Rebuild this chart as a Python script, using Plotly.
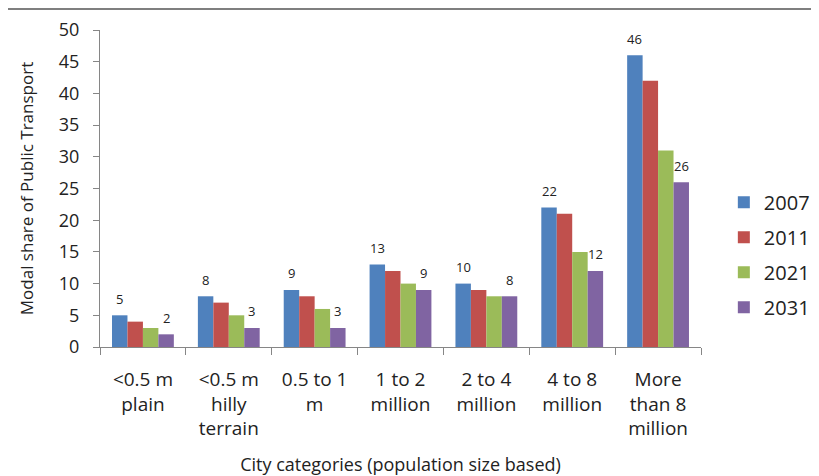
import plotly.graph_objects as go

categories = ["<0.5 m<br>plain", "<0.5 m<br>hilly<br>terrain", "0.5 to 1<br>m",
              "1 to 2<br>million", "2 to 4<br>million", "4 to 8<br>million",
              "More<br>than 8<br>million"]
years = ["2007", "2011", "2021", "2031"]
v2007 = [5, 8, 9, 13, 10, 22, 46]
v2011 = [4, 7, 8, 12, 9, 21, 42]
v2021 = [3, 5, 6, 10, 8, 15, 31]
v2031 = [2, 3, 3, 9, 8, 12, 26]
series = [v2007, v2011, v2021, v2031]
colors = ["#4F81BD", "#C0504D", "#9BBB59", "#8064A2"]
labelled = [True, False, False, True]

FONT = "Open Sans, Lato, sans-serif"
# page has an 8px body margin; figure is sized to fit inside the window
W, H = 811, 468
L, R, T, B = 92, 118, 22, 129
BARGAP = 0.28

fig = go.Figure()
for name, vals, col in zip(years, series, colors):
    fig.add_trace(go.Bar(
        x=categories, y=vals, name=name, legendgroup=name,
        marker=dict(color=col, line=dict(width=0)),
    ))

# data labels above the 2007 and 2031 bars
cat_px = (W - L - R) / len(categories)
bar_px = cat_px * (1 - BARGAP) / len(series)
for i, (vals, lab) in enumerate(zip(series, labelled)):
    if not lab:
        continue
    off = (i - (len(series) - 1) / 2) * bar_px
    for c, v in zip(categories, vals):
        fig.add_annotation(x=c, y=v, text=str(v), showarrow=False,
                           xshift=off, yshift=16.5,
                           font=dict(size=13, color="#222222", family=FONT))

plot_h = H - T - B
fig.update_layout(
    width=W, height=H,
    paper_bgcolor="white", plot_bgcolor="white",
    margin=dict(l=L, r=R, t=T, b=B, autoexpand=False),
    barmode="group", bargap=BARGAP, bargroupgap=0,
    font=dict(family=FONT, color="#222222"),
    legend=dict(x=1.038, y=0.518, xanchor="left", yanchor="top",
                font=dict(size=20, family=FONT), tracegroupgap=6,
                itemwidth=30),
    xaxis=dict(showline=True, linecolor="#868686", linewidth=1, automargin=False,
               ticks="outside", tickson="boundaries", ticklen=7, tickcolor="#868686",
               ticklabelstandoff=15,
               tickfont=dict(size=19, family=FONT, color="#222222"),
               title=dict(text="City categories (population size based)",
                          font=dict(size=18, family=FONT), standoff=26)),
    yaxis=dict(range=[0, 50], dtick=5, showline=True, linecolor="#868686", linewidth=1,
               automargin=False,
               ticks="outside", ticklen=6, tickcolor="#868686", showgrid=False,
               zeroline=False, ticklabelstandoff=10,
               tickfont=dict(size=18, family=FONT, color="#222222"),
               title=dict(text="Modal share of Public Transport",
                          font=dict(size=17, family=FONT), standoff=20)),
)
fig.add_shape(type="line", xref="paper", yref="paper",
              x0=-0.2, x1=1.25, y0=1 + (T - 0.5) / plot_h, y1=1 + (T - 0.5) / plot_h,
              line=dict(color="#7f7f7f", width=3))

fig.write_html("out.html")
